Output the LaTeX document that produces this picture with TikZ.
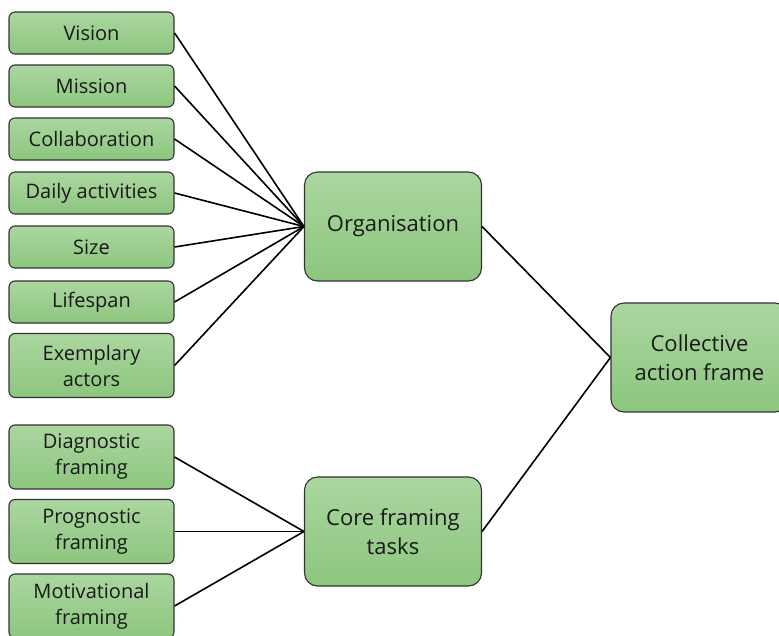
\documentclass[tikz,border=0pt]{standalone}
\usepackage{fontspec}
\setmainfont{Open Sans}

\definecolor{gt}{RGB}{171,214,160}
\definecolor{gb}{RGB}{140,198,126}
\definecolor{bd}{RGB}{50,50,50}
\definecolor{tx}{RGB}{25,25,25}

\begin{document}
\begin{tikzpicture}[
        x=1pt, y=-1pt,
        leaf/.style={rectangle, rounded corners=6pt, draw=bd, line width=1.1pt, top color=gt, bottom color=gb,
            minimum width=165pt, minimum height=42pt, align=center, inner sep=0pt, text=tx,
            font=\fontsize{20}{26}\selectfont},
        tall/.style={leaf, minimum height=64pt},
        hub/.style={rectangle, rounded corners=13pt, draw=bd, line width=1.1pt, top color=gt, bottom color=gb,
            minimum width=177pt, minimum height=109pt, align=center, inner sep=0pt, text=tx,
            font=\fontsize{22}{29}\selectfont},
    ]
    \clip (0,0) rectangle (779,635);

    \node[leaf] (1) at (91.5,33) {Vision};
    \node[leaf] (2) at (91.5,86) {Mission};
    \node[leaf] (3) at (91.5,139) {Collaboration};
    \node[leaf] (4) at (91.5,193) {Daily activities};
    \node[leaf] (5) at (91.5,247) {Size};
    \node[leaf] (6) at (91.5,302) {Lifespan};
    \node[tall] (7) at (91.5,365.5) {Exemplary\\actors};

    \node[tall] (8) at (91.5,457) {Diagnostic\\framing};
    \node[tall] (9) at (91.5,531.5) {Prognostic\\framing};
    \node[tall] (10) at (91.5,606) {Motivational\\framing};

    \node[hub] (11) at (393,226.5) {Organisation};
    \node[hub] (12) at (393,531.5) {Core framing\\tasks};
    \node[hub] (13) at (699.5,357.5) {Collective\\action frame};

    \path[line width=1.6pt]
    (1.east) edge (11.west)
    (2.east) edge (11.west)
    (3.east) edge (11.west)
    (4.east) edge (11.west)
    (5.east) edge (11.west)
    (6.east) edge (11.west)
    (7.east) edge (11.west)
    (8.east) edge (12.west)
    (9.east) edge (12.west)
    (10.east) edge (12.west)
    (11.east) edge (13.west)
    (12.east) edge (13.west)
    ;
\end{tikzpicture}
\end{document}
